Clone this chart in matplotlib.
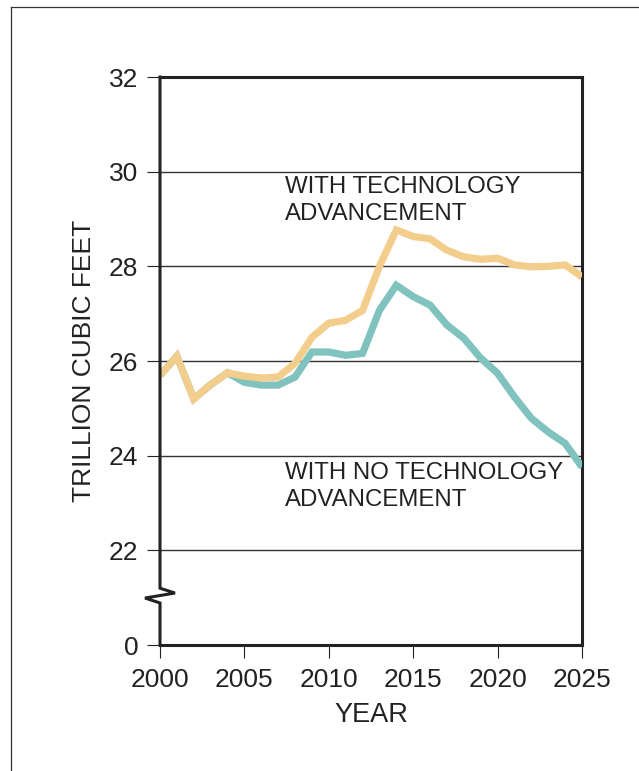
import matplotlib.pyplot as plt
from matplotlib.lines import Line2D

# Natural gas supply, trillion cubic feet
years = list(range(2000, 2026))
with_tech = [25.7, 26.1, 25.2, 25.5, 25.75, 25.68, 25.64, 25.66, 25.95, 26.5,
             26.8, 26.86, 27.07, 28.0, 28.77, 28.63, 28.58, 28.34, 28.2, 28.15,
             28.17, 28.03, 27.99, 28.0, 28.03, 27.78]
no_tech = [25.7, 26.1, 25.2, 25.5, 25.75, 25.55, 25.49, 25.49, 25.66, 26.19,
           26.19, 26.12, 26.16, 27.07, 27.6, 27.36, 27.18, 26.76, 26.48, 26.06,
           25.74, 25.24, 24.79, 24.5, 24.26, 23.76]

x_ticks = [2000, 2005, 2010, 2015, 2020, 2025]
# axis is broken below 22: the bottom tick (drawn at 20) stands for 0
y_tick_pos = [20, 22, 24, 26, 28, 30, 32]
y_tick_labels = ['0', '22', '24', '26', '28', '30', '32']
grid_levels = [22, 24, 26, 28, 30]

ORANGE = '#F3CD8C'
TEAL = '#80C3BE'
INK = '#222222'


def main():
    plt.rcParams['font.family'] = ['Liberation Sans', 'DejaVu Sans']

    fig = plt.figure(figsize=(6.39, 7.71), dpi=100)
    ax = fig.add_axes([160 / 639, 1 - 645 / 771, 422 / 639, 568 / 771])

    for lvl in grid_levels:
        ax.axhline(lvl, color='#333333', linewidth=1.0, zorder=1)

    ax.plot(years, no_tech, color=TEAL, linewidth=5.2, zorder=3,
            solid_joinstyle='miter', solid_capstyle='butt')
    ax.plot(years, with_tech, color=ORANGE, linewidth=5.2, zorder=4,
            solid_joinstyle='miter', solid_capstyle='butt')

    ax.set_xlim(2000, 2025)
    ax.set_ylim(20, 32)
    ax.set_xticks(x_ticks)
    ax.set_yticks(y_tick_pos)
    ax.set_yticklabels(y_tick_labels)
    ax.tick_params(axis='both', direction='out', length=9.5, width=0.8,
                   color=INK, labelcolor=INK, labelsize=19)
    ax.tick_params(axis='y', pad=6)
    ax.tick_params(axis='x', pad=7)

    for side in ['top', 'right', 'bottom']:
        ax.spines[side].set_linewidth(2.2)
        ax.spines[side].set_color(INK)
    ax.spines['left'].set_visible(False)

    # left spine with a zigzag break between 0 and 22
    spine_x = [0, 0, 0.0355, -0.0355, 0, 0]
    spine_y = [1, 0.100, 0.0915, 0.0827, 0.074, 0]
    ax.add_line(Line2D(spine_x, spine_y, transform=ax.transAxes, color=INK,
                       linewidth=2.2, clip_on=False, zorder=5,
                       solid_joinstyle='miter'))

    ax.set_xlabel('YEAR', fontsize=19.5, color=INK, labelpad=7)
    ax.set_ylabel('TRILLION CUBIC FEET', fontsize=19, color=INK, labelpad=9)

    ax.text(2007.4, 29.9, 'WITH TECHNOLOGY\nADVANCEMENT', fontsize=17.3,
            color=INK, va='top', ha='left', linespacing=1.28, zorder=6)
    ax.text(2007.4, 23.86, 'WITH NO TECHNOLOGY\nADVANCEMENT', fontsize=17.3,
            color=INK, va='top', ha='left', linespacing=1.28, zorder=6)

    # outer frame of the panel
    fig.add_artist(Line2D([10.5 / 639, 10.5 / 639], [0, 1 - 6.5 / 771],
                          transform=fig.transFigure, color='#333333',
                          linewidth=0.9))
    fig.add_artist(Line2D([10.5 / 639, 1], [1 - 6.5 / 771, 1 - 6.5 / 771],
                          transform=fig.transFigure, color='#333333',
                          linewidth=0.9))

    fig.savefig('out.png', dpi=100)


if __name__ == '__main__':
    main()
